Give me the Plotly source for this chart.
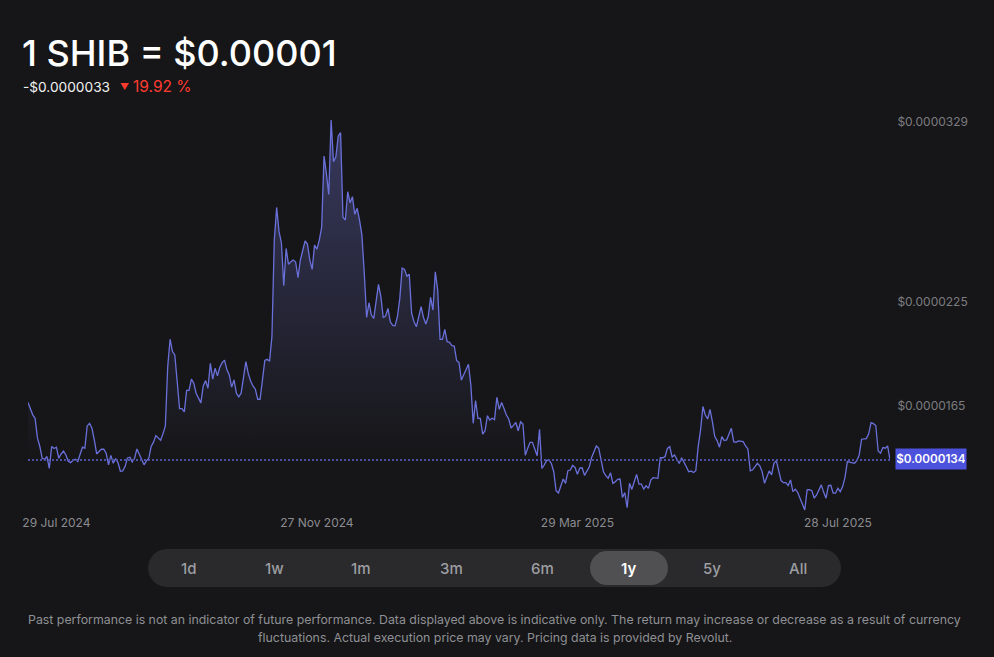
import numpy as np
import plotly.graph_objects as go

# daily close, in units of 1e-7 USD
prices_e7 = [
    166.6, 163.3, 159.5, 157.5, 146.0, 141.2, 134.4, 133.8, 135.4, 128.6, 141.2, 140.0, 140.8, 134.4, 136.9,
    138.5, 136.3, 132.7, 131.9, 133.1, 133.8, 132.5, 136.3, 140.8, 140.2, 153.1, 154.6, 151.8, 145.0, 136.9,
    138.3, 139.6, 139.6, 137.3, 130.6, 136.1, 131.5, 134.2, 131.9, 126.9, 127.1, 129.6, 134.6, 135.0, 132.3,
    134.4, 139.8, 136.9, 134.0, 130.6, 132.9, 134.4, 141.2, 143.7, 147.5, 146.0, 144.8, 148.5, 153.1, 187.4,
    203.2, 196.1, 194.1, 178.7, 163.1, 163.1, 161.2, 173.7, 173.7, 180.1, 177.8, 172.0, 169.1, 166.4, 176.2,
    179.3, 174.9, 189.3, 180.1, 186.4, 182.0, 187.0, 189.7, 191.1, 185.5, 182.6, 175.5, 179.7, 172.0, 169.9,
    172.0, 182.6, 190.3, 183.5, 179.1, 176.2, 174.3, 168.5, 168.5, 179.7, 190.9, 191.6, 190.5,
    204.7, 260.5, 279.4, 265.4, 259.0, 234.1, 255.7, 246.5, 248.0, 249.0, 248.0, 238.8, 249.0, 254.8, 260.0,
    258.2, 249.0, 243.6, 257.7, 255.2, 260.5, 267.9, 309.1, 299.1, 286.9, 329.9, 305.8, 308.7, 320.7, 322.6,
    273.7, 272.1, 288.5, 282.1, 285.6, 275.4, 278.9, 272.1, 263.4, 241.3, 215.8, 224.3, 217.2, 215.3, 225.5,
    234.9, 227.8, 215.8, 216.6, 221.0, 213.3, 211.2, 211.0, 216.2, 226.8, 244.4, 243.6, 239.7, 240.7, 218.1,
    213.3, 210.4, 216.2, 222.0, 215.8, 212.0, 216.2, 227.4, 220.1, 242.2, 231.6,
    203.1, 203.1, 208.9, 201.8, 201.4, 199.5, 199.3, 190.8, 189.8, 179.6, 182.5, 186.4, 188.7, 176.7, 154.6,
    167.7, 157.5, 157.5, 148.4, 150.3, 159.0, 156.5, 157.5, 156.7, 169.6, 162.7, 166.7, 163.2, 159.4, 157.1,
    151.9, 153.4, 155.1, 150.3, 155.5, 154.2, 136.1, 140.1, 143.6, 143.6, 140.1, 135.9, 151.1, 128.5, 130.5,
    133.2, 133.4, 131.4, 126.6, 115.6, 114.3, 118.9, 122.4, 119.9, 127.2, 127.6, 130.3, 129.1, 125.1, 128.7,
    128.9, 124.5, 127.0, 129.3, 134.9, 138.2, 141.5, 140.1, 132.4, 126.6, 124.3, 122.8, 126.0, 119.9, 120.8,
    122.2, 122.4, 111.8, 114.5, 105.8, 119.9, 116.4, 120.8, 125.1, 119.5, 119.5, 116.6, 118.5, 117.0, 121.8,
    123.2, 123.0, 122.8, 134.7, 134.7, 135.3, 140.1, 141.1, 135.1, 136.3, 133.4, 131.4, 134.7, 132.4, 129.5,
    126.6, 127.0, 126.2, 127.2, 141.1, 150.7,
    164.3, 159.4, 157.1, 162.7, 155.6, 146.9, 144.6, 140.8, 146.9, 144.6, 145.0, 147.9, 151.7, 144.0, 143.6,
    144.4, 144.0, 144.0, 141.5, 139.8, 127.1, 127.7, 129.6, 131.5, 130.0, 126.7, 119.9, 124.2, 127.1, 124.8,
    131.5, 133.0, 127.7, 121.5, 120.3, 120.3, 118.6, 121.9, 115.1, 116.5, 114.7, 111.3, 108.0, 104.5, 116.1,
    116.3, 115.7, 111.3, 113.2, 116.1, 119.0, 114.7, 111.3, 118.6, 118.8, 114.2, 114.2, 117.0, 115.1, 118.0,
    123.4, 132.5, 132.1, 131.5, 131.5, 133.0, 136.3, 145.4, 145.4, 145.8, 148.5, 155.0, 154.4, 153.3, 138.6,
    137.3, 140.6, 140.2, 141.5, 133.4,
]
label_price_e7 = 134

x_tick_days = [12, 122, 232, 342]
x_tick_labels = ["29 Jul 2024", "27 Nov 2024", "29 Mar 2025", "28 Jul 2025"]
y_tick_values_e7 = [329, 225, 165]
y_tick_labels = ["$0.0000329", "$0.0000225", "$0.0000165"]
last_price_label = "$0.0000134"

periods = ["1d", "1w", "1m", "3m", "6m", "1y", "5y", "All"]
period_centers = [189, 274, 361, 451, 542, 628, 712, 798]
active_period = "1y"

BG = "#161618"
LINE = "#6a70da"
FONT = "Inter"

W, H = 994, 657
L, R, T, B = 28, 890, 100, 515


# page pixels to paper coordinates
def xp(px):
    return (px - L) / (R - L)


def yp(py):
    return (B - py) / (B - T)


def pill(x0, y0, x1, y1, r, color):
    k = 0.45 * r
    pts = [
        f"M {xp(x0 + r)} {yp(y0)}", f"L {xp(x1 - r)} {yp(y0)}",
        f"C {xp(x1 - k)} {yp(y0)} {xp(x1)} {yp(y0 + k)} {xp(x1)} {yp(y0 + r)}",
        f"L {xp(x1)} {yp(y1 - r)}",
        f"C {xp(x1)} {yp(y1 - k)} {xp(x1 - k)} {yp(y1)} {xp(x1 - r)} {yp(y1)}",
        f"L {xp(x0 + r)} {yp(y1)}",
        f"C {xp(x0 + k)} {yp(y1)} {xp(x0)} {yp(y1 - k)} {xp(x0)} {yp(y1 - r)}",
        f"L {xp(x0)} {yp(y0 + r)}",
        f"C {xp(x0)} {yp(y0 + k)} {xp(x0 + k)} {yp(y0)} {xp(x0 + r)} {yp(y0)}",
        "Z",
    ]
    return dict(type="path", xref="paper", yref="paper", path=" ".join(pts),
                fillcolor=color, line=dict(width=0), layer="below")


def label(text, px, py, size, color, anchor="left", weight=400):
    return dict(text=text, xref="paper", yref="paper", x=xp(px), y=yp(py), showarrow=False,
                xanchor=anchor, yanchor="middle",
                font=dict(family=FONT, size=size, color=color, weight=weight))


prices = np.array(prices_e7) * 1e-7
days = np.arange(len(prices))

fig = go.Figure()
fig.add_trace(go.Scatter(
    x=days, y=prices, mode="lines", line=dict(color=LINE, width=1.3), fill="tozeroy",
    fillgradient=dict(type="vertical", start=prices[-1], stop=prices.max(),
                      colorscale=[[0, BG], [1, "#38395e"]]),
    hoverinfo="skip",
))
fig.add_trace(go.Scatter(
    x=[days[0], days[-1]], y=[prices[-1], prices[-1]], mode="lines",
    line=dict(color="#4c50a4", width=2, dash="2px,2px"), hoverinfo="skip",
))

shapes = [pill(148, 549, 841, 587, 19, "#2a2a2c"), pill(590, 551, 668, 585, 17, "#505052")]

annotations = [
    label("1 SHIB = $0.00001", 20, 53, 36, "#ffffff", weight=500),
    label("-$0.0000033", 21, 87, 13.7, "#f2f2f2"),
    label("▼", 118, 87, 9, "#ff3b30"),
    label("19.92 %", 130.5, 87, 15.5, "#ff3b30"),
    dict(text=last_price_label, xref="paper", yref="y", x=xp(895), y=label_price_e7 * 1e-7, showarrow=False,
         xanchor="left", yanchor="middle", width=68, height=18, bgcolor="#4d52dc",
         font=dict(family=FONT, size=11.7, color="#ffffff", weight=600)),
    label("Past performance is not an indicator of future performance. Data displayed above is indicative only. "
          "The return may increase or decrease as a result of currency", 494.5, 619, 12.35, "#8f9094", "center"),
    label("fluctuations. Actual execution price may vary. Pricing data is provided by Revolut.",
          494.5, 637, 12.35, "#8f9094", "center"),
]
for name, cx in zip(periods, period_centers):
    active = name == active_period
    annotations.append(label(name, cx, 568, 15, "#ffffff" if active else "#9d9ea2", "center", 600 if active else 500))

fig.update_layout(
    width=W, height=H, margin=dict(l=L, r=W - R, t=T, b=H - B),
    paper_bgcolor=BG, plot_bgcolor=BG, showlegend=False,
    shapes=shapes, annotations=annotations,
    font=dict(family=FONT),
    xaxis=dict(range=[days[0], days[-1]], showgrid=False, zeroline=False, showline=False,
               tickmode="array", tickvals=x_tick_days, ticktext=x_tick_labels,
               ticks="", ticklabelstandoff=-1, tickfont=dict(size=12, color="#8b8c90")),
    yaxis=dict(range=[101.6e-7, 341.5e-7], side="right", showgrid=False, zeroline=False, showline=False,
               tickmode="array", tickvals=[v * 1e-7 for v in y_tick_values_e7], ticktext=y_tick_labels,
               ticks="outside", ticklen=4, tickcolor=BG, tickfont=dict(size=12, color="#7c7c80")),
)

fig.write_html("out.html", config={"displayModeBar": False},
               post_script="document.body.style.margin='0';document.body.style.background='#161618';")
